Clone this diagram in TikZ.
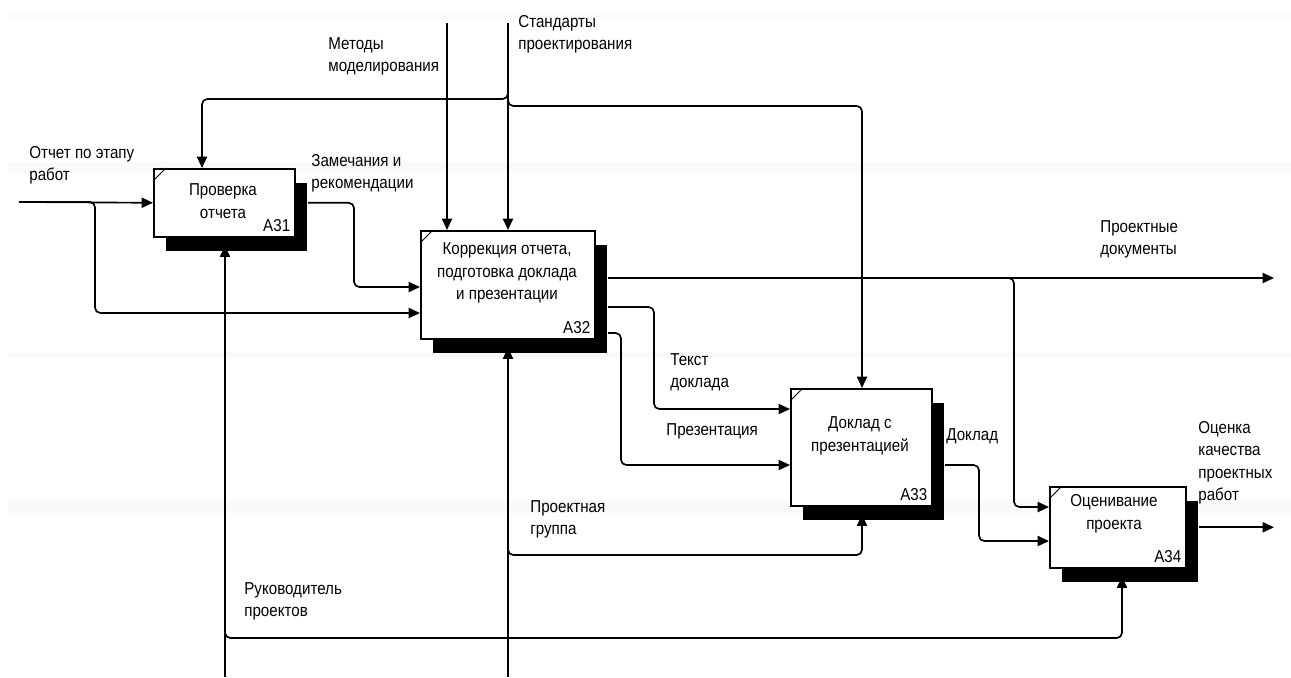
\documentclass[tikz,border=0pt]{standalone}
\usepackage{fontspec}
\setmainfont[FakeStretch=0.88]{Liberation Sans}
\usetikzlibrary{arrows.meta,shadows}
\begin{document}
\begin{tikzpicture}[x=0.02cm,y=-0.02cm,
  every node/.style={inner sep=0pt, font=\fontsize{9.8}{12.8}\selectfont},
  act/.style={draw=black, line width=0.9pt, fill=white, anchor=north west,
    drop shadow={shadow xshift=0.25cm, shadow yshift=-0.29cm, fill=black, opacity=1}},
  boxtext/.style={align=center},
  boxnum/.style={anchor=base east},
  lbl/.style={anchor=north west, align=left},
  wire/.style={line width=0.95pt, rounded corners=3pt},
  arr/.style={wire, -{Triangle[length=6.5pt,width=5.8pt]}},
  tick/.style={line width=0.5pt},
  band/.style={fill=gray!5}
]
% page
\fill[white] (0,0) rectangle (1291,677);
\useasboundingbox (0,0) rectangle (1291,677);
% faint horizontal rulings
\fill[band] (8,13) rectangle (1291,19);
\fill[band] (8,162) rectangle (1291,173);
\fill[band] (8,352) rectangle (1291,358);
\fill[band] (8,500) rectangle (1291,513);

% activity boxes
\node[act, minimum width=2.82cm, minimum height=1.36cm] (a31) at (153,168) {};
\node[act, minimum width=3.48cm, minimum height=2.16cm] (a32) at (420,230) {};
\node[act, minimum width=2.82cm, minimum height=2.34cm] (a33) at (790,388) {};
\node[act, minimum width=2.72cm, minimum height=1.62cm] (a34) at (1049,486) {};

% corner ticks
\foreach \b in {a31,a32,a33,a34}
  \draw[tick] ([yshift=-0.26cm]\b.north west) -- ([xshift=0.26cm]\b.north west);

% box captions
\node[boxtext] (a31t) at (223,201) {Проверка\\отчета};
\node[boxtext] (a32t) at (507,273) {Коррекция отчета,\\подготовка доклада\\и презентации};
\node[boxtext] (a33t) at (860,436) {Доклад с\\презентацией};
\node[boxtext] (a34t) at (1114,514) {Оценивание\\проекта};
\node[boxnum] (a31n) at ([xshift=-0.1cm,yshift=0.12cm]a31.south east) {A31};
\node[boxnum] (a32n) at ([xshift=-0.1cm,yshift=0.12cm]a32.south east) {A32};
\node[boxnum] (a33n) at ([xshift=-0.1cm,yshift=0.12cm]a33.south east) {A33};
\node[boxnum] (a34n) at ([xshift=-0.1cm,yshift=0.12cm]a34.south east) {A34};

% free ends and bend points
\coordinate (inRep) at (19,202);
\coordinate (inMet) at (447,23);
\coordinate (inStd) at (508,23);
\coordinate (inLead) at (225,677);
\coordinate (inTeam) at (508,677);
\coordinate (outDocs) at (1274,278);
\coordinate (outEval) at (1274,527);

\coordinate (repB) at (95,313);
\coordinate (zamB) at (354,287);
\coordinate (stdL) at (202,99);
\coordinate (stdR) at (862,106);
\coordinate (docB) at (1014,507);
\coordinate (txtA) at (654,307);
\coordinate (txtB) at (654,409);
\coordinate (preA) at (621,333);
\coordinate (preB) at (621,465);
\coordinate (dokA) at (979,465);
\coordinate (dokB) at (979,541);
\coordinate (leadB) at (1122,638);
\coordinate (teamB) at (862,555);

% inputs
\draw[arr] (inRep) -- (a31.west);
\draw[arr] (inRep) -- (repB |- inRep) -- (repB) -- (a32.west |- repB);
\draw[arr] ([xshift=0.25cm]a31.east) -- (zamB |- a31.east) -- (zamB) -- (a32.west |- zamB);

% controls
\draw[arr] (inMet) -- (a32.north -| inMet);
\draw[arr] (inStd) -- (a32.north -| inStd);
\draw[arr] (inStd |- 0,86) -- (inStd |- stdL) -- (stdL) -- (a31.north -| stdL);
\draw[arr] (inStd |- 0,94) -- (inStd |- stdR) -- (stdR) -- (a33.north -| stdR);

% outputs of A32
\draw[arr] ([xshift=0.25cm]a32.east |- outDocs) -- (outDocs);
\draw[arr] (1002,278) -- (docB |- outDocs) -- (docB) -- (a34.west |- docB);
\draw[arr] ([xshift=0.25cm]a32.east |- txtA) -- (txtA) -- (txtB) -- (a33.west |- txtB);
\draw[arr] ([xshift=0.25cm]a32.east |- preA) -- (preA) -- (preB) -- (a33.west |- preB);

% outputs of A33 and A34
\draw[arr] ([xshift=0.25cm]a33.east |- dokA) -- (dokA) -- (dokB) -- (a34.west |- dokB);
\draw[arr] ([xshift=0.25cm]a34.east) -- (outEval |- a34.east);

% mechanisms
\draw[arr] (inLead) -- ([yshift=-0.16cm]a31.south -| inLead);
\draw[arr] (inLead |- 0,626) -- (inLead |- leadB) -- (leadB) -- ([yshift=-0.16cm]a34.south -| leadB);
\draw[arr] (inTeam) -- ([yshift=-0.16cm]a32.south -| inTeam);
\draw[arr] (inTeam |- 0,543) -- (inTeam |- teamB) -- (teamB) -- ([yshift=-0.16cm]a33.south -| teamB);

% arrow labels
\node[lbl] (lRep) at (29,146) {Отчет по этапу\\работ};
\node[lbl] (lZam) at (311,154) {Замечания и\\рекомендации};
\node[lbl] (lMet) at (328,37) {Методы\\моделирования};
\node[lbl] (lStd) at (518,15) {Стандарты\\проектирования};
\node[lbl] (lDocs) at (1100,220) {Проектные\\документы};
\node[lbl] (lTxt) at (670,353) {Текст\\доклада};
\node[lbl] (lPre) at (666,423) {Презентация};
\node[lbl] (lDok) at (946,428) {Доклад};
\node[lbl] (lEval) at (1198,421) {Оценка\\качества\\проектных\\работ};
\node[lbl] (lTeam) at (530,500) {Проектная\\группа};
\node[lbl] (lLead) at (244,582) {Руководитель\\проектов};
\end{tikzpicture}
\end{document}
